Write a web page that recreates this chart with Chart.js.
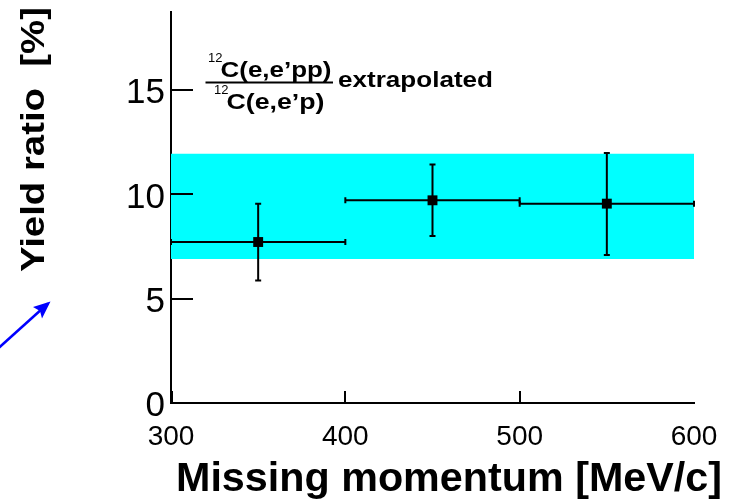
<!DOCTYPE html>
<html><head><meta charset="utf-8">
<script src="https://cdn.jsdelivr.net/npm/chart.js@4.4.1/dist/chart.umd.min.js"></script>
<style>html,body{margin:0;padding:0;background:#fff;}#wrap{width:729px;height:503px;}</style>
</head><body><div id="wrap"><canvas id="c" width="729" height="503"></canvas></div>
<script>
// ---- data ----
const momentum = [350, 450, 550];
const ratio = [7.72, 9.72, 9.56];
const momentumLow = [300, 400, 500];
const momentumHigh = [400, 500, 600];
const ratioLow = [5.88, 8.01, 7.10];
const ratioHigh = [9.56, 11.44, 11.99];
const bandX = [300, 600];
const bandLow = 6.9;
const bandHigh = 11.95;
const xTicks = [300, 400, 500, 600];
const yTicks = [0, 5, 10, 15];
const xRange = [300, 600];
const yRange = [0, 18.75];

const FONT = "'Liberation Sans', Arial, Helvetica, sans-serif";

function fitText(ctx, text, x, y, font, width, rot) {
  ctx.save();
  ctx.font = font;
  const w = ctx.measureText(text).width;
  ctx.translate(x, y);
  if (rot) ctx.rotate(rot);
  ctx.scale(width / w, 1);
  ctx.textAlign = 'left';
  ctx.textBaseline = 'alphabetic';
  ctx.fillStyle = '#000';
  ctx.fillText(text, 0, 0);
  ctx.restore();
}

const decor = {
  id: 'decor',
  beforeDatasetDraw(chart, args) {
    if (args.index !== 1) return;
    const ctx = chart.ctx, xs = chart.scales.x, ys = chart.scales.y;
    ctx.save();
    ctx.strokeStyle = '#000';
    ctx.lineWidth = 2;
    const cap = 3;
    for (let i = 0; i < momentum.length; i++) {
      const px = xs.getPixelForValue(momentum[i]);
      const py = ys.getPixelForValue(ratio[i]);
      const x0 = xs.getPixelForValue(momentumLow[i]);
      const x1 = xs.getPixelForValue(momentumHigh[i]);
      const y0 = ys.getPixelForValue(ratioLow[i]);
      const y1 = ys.getPixelForValue(ratioHigh[i]);
      ctx.beginPath();
      ctx.moveTo(x0, py); ctx.lineTo(x1, py);
      ctx.moveTo(x0, py - cap); ctx.lineTo(x0, py + cap);
      ctx.moveTo(x1, py - cap); ctx.lineTo(x1, py + cap);
      ctx.moveTo(px, y0); ctx.lineTo(px, y1);
      ctx.moveTo(px - cap, y0); ctx.lineTo(px + cap, y0);
      ctx.moveTo(px - cap, y1); ctx.lineTo(px + cap, y1);
      ctx.stroke();
    }
    ctx.restore();
  },
  afterDatasetsDraw(chart) {
    const ctx = chart.ctx, xs = chart.scales.x, ys = chart.scales.y;
    const area = chart.chartArea;
    ctx.save();
    ctx.strokeStyle = '#000';
    ctx.lineWidth = 2;
    ctx.beginPath();
    yTicks.forEach(v => {
      if (v === yRange[0]) return;
      const py = Math.round(ys.getPixelForValue(v));
      ctx.moveTo(area.left, py); ctx.lineTo(area.left + 22, py);
    });
    xTicks.forEach(v => {
      if (v === xRange[1]) return;
      const px = Math.round(xs.getPixelForValue(v)) + (v === xRange[0] ? 1 : 0);
      ctx.moveTo(px, area.bottom); ctx.lineTo(px, area.bottom - 12);
    });
    ctx.stroke();
    ctx.restore();
  },
  afterDraw(chart) {
    const ctx = chart.ctx;
    // axis titles
    fitText(ctx, 'Missing momentum [MeV/c]', 176, 491, 'bold 41px ' + FONT, 546);
    fitText(ctx, 'Yield ratio  [%]', 44, 272, 'bold 34px ' + FONT, 265, -Math.PI / 2);
    // annotation
    ctx.save();
    ctx.fillStyle = '#000';
    ctx.font = '13px ' + FONT;
    ctx.textBaseline = 'alphabetic';
    ctx.fillText('12', 208, 62);
    ctx.fillText('12', 214, 94);
    ctx.restore();
    fitText(ctx, 'C(e,e\u2019pp)', 220.5, 76.5, 'bold 22px ' + FONT, 111);
    fitText(ctx, 'C(e,e\u2019p)', 226.5, 108.5, 'bold 22px ' + FONT, 98);
    fitText(ctx, 'extrapolated', 338, 87, 'bold 22px ' + FONT, 155);
    ctx.save();
    ctx.strokeStyle = '#000';
    ctx.lineWidth = 2;
    ctx.beginPath();
    ctx.moveTo(205.5, 82.5); ctx.lineTo(333, 82.5);
    ctx.stroke();
    // blue arrow
    ctx.strokeStyle = '#0000ff';
    ctx.fillStyle = '#0000ff';
    ctx.lineWidth = 2.5;
    ctx.beginPath();
    ctx.moveTo(-2, 348.5); ctx.lineTo(48, 303.5);
    ctx.stroke();
    ctx.beginPath();
    ctx.moveTo(50.5, 301.5);
    ctx.lineTo(33, 307);
    ctx.lineTo(40, 311);
    ctx.lineTo(42, 318.5);
    ctx.closePath();
    ctx.fill();
    ctx.restore();
  }
};

new Chart(document.getElementById('c'), {
  type: 'scatter',
  data: {
    datasets: [
      {
        label: 'points',
        data: momentum.map((m, i) => ({x: m, y: ratio[i]})),
        pointStyle: 'rect',
        pointRadius: 7,
        pointBackgroundColor: '#000',
        pointBorderWidth: 0,
        showLine: false,
        order: 0
      },
      {
        label: 'band',
        type: 'line',
        data: bandX.map(v => ({x: v, y: bandHigh})),
        borderWidth: 0,
        borderColor: 'rgba(0,0,0,0)',
        pointRadius: 0,
        backgroundColor: '#00ffff',
        fill: {value: bandLow},
        order: 1
      }
    ]
  },
  options: {
    responsive: false,
    animation: false,
    devicePixelRatio: 1,
    layout: {padding: {top: 12, right: 35, left: 0, bottom: 0}},
    plugins: {legend: {display: false}, tooltip: {enabled: false}},
    scales: {
      x: {
        type: 'linear',
        min: xRange[0], max: xRange[1],
        afterBuildTicks: s => { s.ticks = xTicks.map(v => ({value: v})); },
        afterFit: s => { s.height = 100; s.paddingLeft = 0; s.paddingRight = 0; },
        grid: {display: false, drawTicks: false},
        border: {display: true, color: '#000', width: 2},
        ticks: {color: '#000', font: {family: FONT, size: 28}, padding: 17, maxRotation: 0, autoSkip: false}
      },
      y: {
        type: 'linear',
        min: yRange[0], max: yRange[1],
        afterBuildTicks: s => { s.ticks = yTicks.map(v => ({value: v})); },
        afterFit: s => { s.width = 171; s.paddingTop = 0; s.paddingBottom = 0; },
        grid: {display: false, drawTicks: false},
        border: {display: true, color: '#000', width: 2},
        ticks: {color: '#000', font: {family: FONT, size: 35}, padding: 6, labelOffset: 3.5, autoSkip: false}
      }
    }
  },
  plugins: [decor]
});
</script>
</body></html>
